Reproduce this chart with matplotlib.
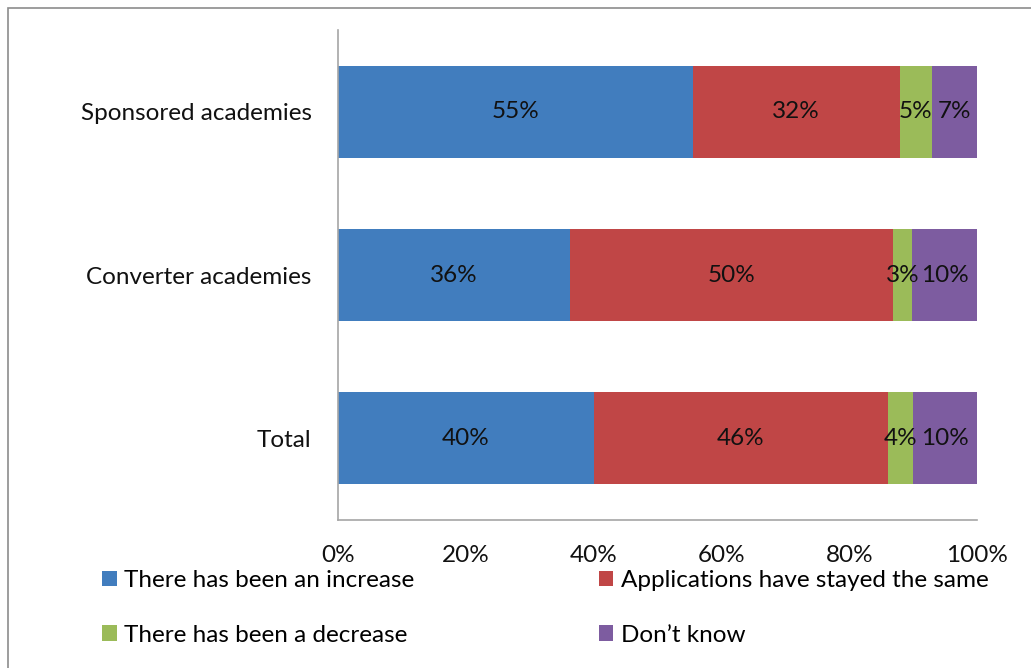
import numpy as np
import matplotlib.pyplot as plt
from matplotlib.patches import Rectangle

plt.rcParams['font.family'] = ['Lato', 'DejaVu Sans']

categories = ['Sponsored academies', 'Converter academies', 'Total']
series = ['There has been an increase', 'Applications have stayed the same',
          'There has been a decrease', 'Don\u2019t know']
increase = [55, 36, 40]
same = [32, 50, 46]
decrease = [5, 3, 4]
dont_know = [7, 10, 10]
colors = ['#417DBE', '#C04646', '#9BBB59', '#7D5CA0']
xticks = [0, 20, 40, 60, 80, 100]
xtick_labels = ['0%', '20%', '40%', '60%', '80%', '100%']

values = np.array([increase, same, decrease, dont_know], dtype=float)
shares = values / values.sum(axis=0) * 100  # 100% stacked, like excel

fs = 17.5
fig = plt.figure(figsize=(10.31, 6.68), dpi=100)
ax = fig.add_axes([338 / 1031, 1 - 520 / 668, 639 / 1031, 490 / 668])

y = np.arange(len(categories))[::-1]
left = np.zeros(len(categories))
bars = []
for i in range(len(series)):
    b = ax.barh(y, shares[i], left=left, height=0.565, color=colors[i], label=series[i])
    bars.append(b)
    for j in range(len(categories)):
        ax.text(left[j] + shares[i][j] / 2, y[j], f'{int(values[i][j])}%',
                ha='center', va='center', fontsize=fs, color='#111111')
    left += shares[i]

ax.set_xlim(0, 100)
ax.set_ylim(-0.5, 2.5)
ax.set_yticks(y)
ax.set_yticklabels(categories, fontsize=fs)
ax.set_xticks(xticks)
ax.set_xticklabels(xtick_labels, fontsize=fs)
ax.tick_params(axis='both', length=0, colors='#111111')
ax.tick_params(axis='x', pad=18)
ax.tick_params(axis='y', pad=19)
for s in ['top', 'right']:
    ax.spines[s].set_visible(False)
for s in ['left', 'bottom']:
    ax.spines[s].set_color('#A6A6A6')
    ax.spines[s].set_linewidth(1.2)

order = [0, 2, 1, 3]
fig.legend([bars[k] for k in order], [series[k] for k in order],
           loc='upper left', bbox_to_anchor=(102 / 1031, 1 - 570 / 668), ncol=2,
           frameon=False, fontsize=fs, handlelength=0.6, handleheight=0.6,
           handletextpad=0.3, columnspacing=7.6, labelspacing=1.38,
           borderaxespad=0, borderpad=0)

# grey frame around the chart
fig.patches.append(Rectangle((8 / 1031, -0.1), 1.1, 1.1 - 8 / 668,
                             transform=fig.transFigure, fill=False,
                             edgecolor='#8C8C8C', linewidth=1.2))

fig.savefig('out.png', dpi=100)
